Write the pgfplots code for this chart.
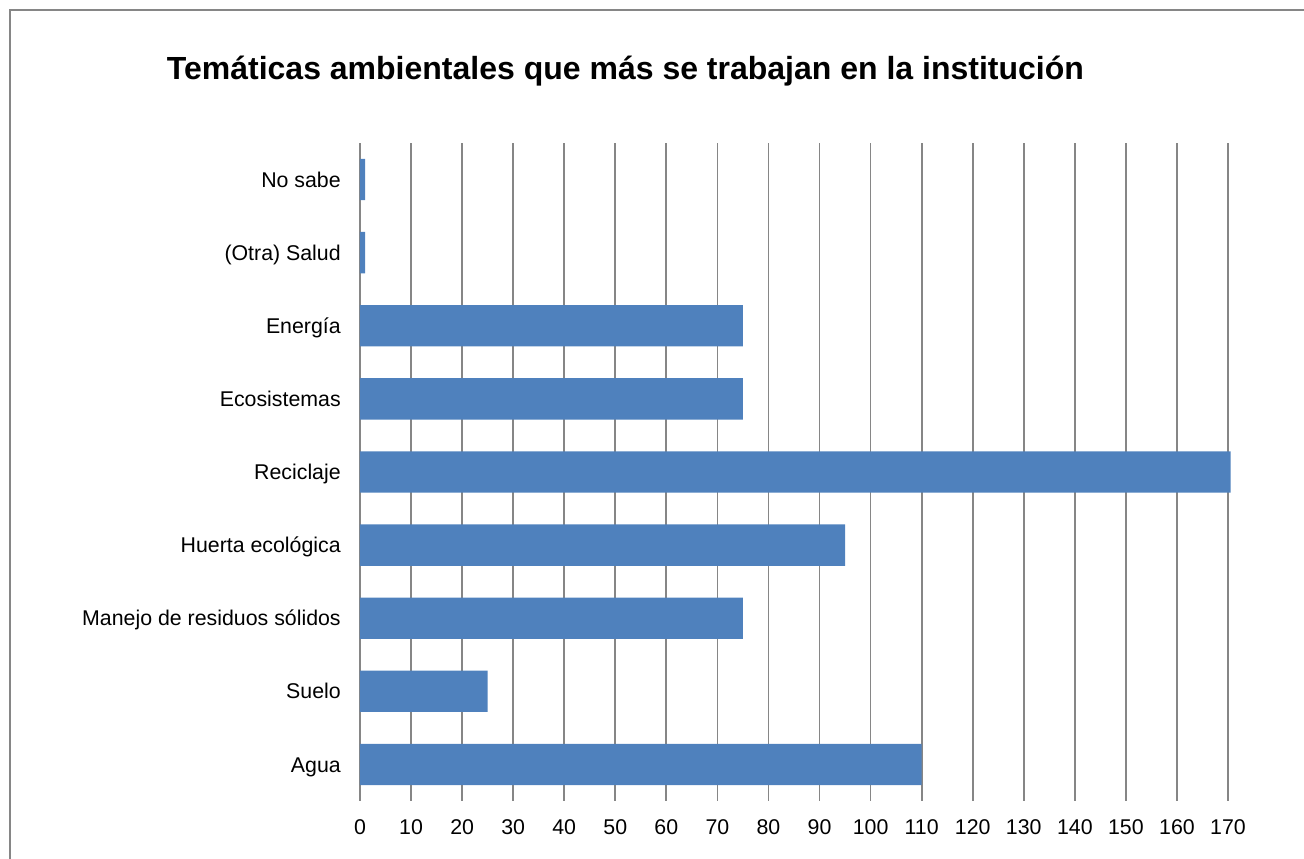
\documentclass[border=0pt]{standalone}
\usepackage{pgfplots}
\pgfplotsset{compat=1.18}
\usepackage{fontspec}
\setmainfont{Liberation Sans}
\definecolor{barblue}{HTML}{4F81BD}
\definecolor{gridgray}{RGB}{134,134,134}
\begin{document}
\begin{tikzpicture}
\useasboundingbox (0pt,0pt) rectangle (978pt,644.25pt);
\draw[gridgray, line width=1.5pt] (7.5pt,-5pt) -- (7.5pt,636.75pt) -- (990pt,636.75pt);
\node[anchor=base, inner sep=0pt, font=\fontsize{24}{28}\selectfont\bfseries] at (469.1pt,584.25pt) {Temáticas ambientales que más se trabajan en la institución};
\begin{axis}[
  at={(270pt,43.5pt)}, anchor=south west,
  scale only axis, width=651pt, height=493.5pt,
  xbar, bar width=31pt,
  xmin=0, xmax=170, ymin=-0.5, ymax=8.5,
  enlargelimits=false, clip=false,
  axis line style={draw=none},
  xtick={0,10,...,170},
  ytick={0,...,8},
  yticklabels={Agua,Suelo,Manejo de residuos sólidos,Huerta ecológica,Reciclaje,Ecosistemas,Energía,(Otra) Salud,No sabe},
  major tick length=0pt,
  xmajorgrids, ymajorgrids=false,
  grid style={gridgray, line width=1.3pt},
  /pgf/number format/assume math mode=true,
  tick label style={font=\fontsize{16}{19}\selectfont},
  xticklabel style={anchor=north, inner sep=0pt, yshift=-13.5pt},
  yticklabel style={anchor=base east, inner sep=0pt, xshift=-14.25pt, yshift=-5.7pt},
]
\addplot[fill=barblue, draw=none] coordinates {
  (110,0) (25,1) (75,2) (95,3) (170.5,4) (75,5) (75,6) (1,7) (1,8)
};
\end{axis}
\end{tikzpicture}
\end{document}
